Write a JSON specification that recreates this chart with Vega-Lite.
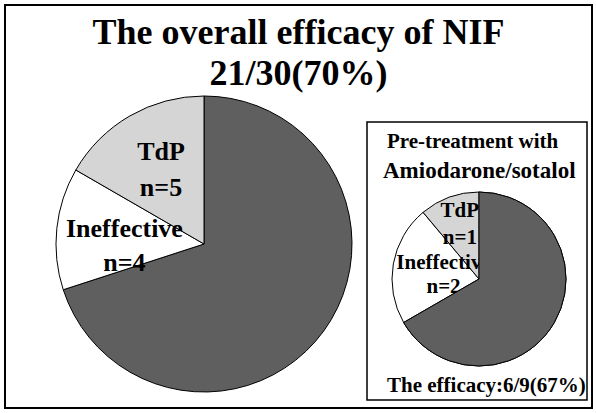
{
  "$schema": "https://vega.github.io/schema/vega-lite/v6.json",
  "width": 596,
  "height": 413,
  "autosize": {"type": "fit", "contains": "padding"},
  "padding": {"left": 5, "top": 5, "right": 4, "bottom": 5},
  "background": "white",
  "title": {
    "text": ["The overall efficacy of NIF", "21/30(70%)"],
    "anchor": "middle",
    "frame": "group",
    "orient": "top",
    "baseline": "alphabetic",
    "offset": -116,
    "lineHeight": 41,
    "font": "Liberation Serif",
    "fontSize": 36,
    "fontWeight": "bold",
    "color": "black"
  },
  "datasets": {
    "slices": [
      {"panel": "Overall", "category": "Effective", "n": 21, "name": "", "count": ""},
      {"panel": "Overall", "category": "Ineffective", "n": 4, "name": "Ineffective", "count": "n=4"},
      {"panel": "Overall", "category": "TdP", "n": 5, "name": "TdP", "count": "n=5"},
      {"panel": "Pre-treatment", "category": "Effective", "n": 6, "name": "", "count": ""},
      {"panel": "Pre-treatment", "category": "Ineffective", "n": 2, "name": "Ineffective", "count": "n=2"},
      {"panel": "Pre-treatment", "category": "TdP", "n": 1, "name": "TdP", "count": "n=1"}
    ],
    "notes": [
      {"panel": "Pre-treatment", "role": "head1", "text": "Pre-treatment with"},
      {"panel": "Pre-treatment", "role": "head2", "text": "Amiodarone/sotalol"},
      {"panel": "Pre-treatment", "role": "foot", "text": "The efficacy:6/9(67%)"}
    ]
  },
  "encoding": {
    "x": {"field": "panel", "type": "nominal", "axis": null,
          "scale": {"type": "point", "domain": ["Overall", "Pre-treatment"], "range": [199, 474], "padding": 0}},
    "y": {"field": "panel", "type": "nominal", "axis": null,
          "scale": {"type": "point", "domain": ["Overall", "Pre-treatment"], "range": [239, 274], "padding": 0}}
  },
  "layer": [
    {
      "data": {"name": "slices"},
      "transform": [{"filter": "datum.panel === 'Overall'"}],
      "mark": {"type": "arc", "outerRadius": 148, "stroke": "black", "strokeWidth": 1},
      "encoding": {
        "theta": {"field": "n", "type": "quantitative", "stack": "normalize"},
        "order": {"field": "category", "sort": "ascending"},
        "color": {"field": "category", "type": "nominal", "legend": null,
                  "scale": {"domain": ["Effective", "Ineffective", "TdP"], "range": ["#5f5f5f", "#ffffff", "#d5d5d5"]}}
      }
    },
    {
      "data": {"name": "slices"},
      "transform": [{"filter": "datum.panel === 'Pre-treatment'"}],
      "mark": {"type": "arc", "outerRadius": 87, "stroke": "black", "strokeWidth": 1},
      "encoding": {
        "theta": {"field": "n", "type": "quantitative", "stack": "normalize"},
        "order": {"field": "category", "sort": "ascending"},
        "color": {"field": "category", "type": "nominal", "legend": null}
      }
    },
    {
      "data": {"name": "slices"},
      "transform": [{"filter": "datum.panel === 'Overall'"}],
      "mark": {"type": "text", "radius": 86, "dy": -18, "font": "Liberation Serif", "fontSize": 26, "fontWeight": "bold", "color": "black", "align": "center", "baseline": "middle"},
      "encoding": {
        "theta": {"field": "n", "type": "quantitative", "stack": "normalize"},
        "order": {"field": "category", "sort": "ascending"},
        "text": {"condition": {"test": "datum.category === 'TdP'", "field": "name"}, "value": ""}
      }
    },
    {
      "data": {"name": "slices"},
      "transform": [{"filter": "datum.panel === 'Overall'"}],
      "mark": {"type": "text", "radius": 86, "dy": 18, "font": "Liberation Serif", "fontSize": 26, "fontWeight": "bold", "color": "black", "align": "center", "baseline": "middle"},
      "encoding": {
        "theta": {"field": "n", "type": "quantitative", "stack": "normalize"},
        "order": {"field": "category", "sort": "ascending"},
        "text": {"condition": {"test": "datum.category === 'TdP'", "field": "count"}, "value": ""}
      }
    },
    {
      "data": {"name": "slices"},
      "transform": [{"filter": "datum.panel === 'Overall'"}],
      "mark": {"type": "text", "radius": 80, "dy": -7, "font": "Liberation Serif", "fontSize": 26, "fontWeight": "bold", "color": "black", "align": "center", "baseline": "middle"},
      "encoding": {
        "theta": {"field": "n", "type": "quantitative", "stack": "normalize"},
        "order": {"field": "category", "sort": "ascending"},
        "text": {"condition": {"test": "datum.category === 'Ineffective'", "field": "name"}, "value": ""}
      }
    },
    {
      "data": {"name": "slices"},
      "transform": [{"filter": "datum.panel === 'Overall'"}],
      "mark": {"type": "text", "radius": 80, "dy": 27, "font": "Liberation Serif", "fontSize": 26, "fontWeight": "bold", "color": "black", "align": "center", "baseline": "middle"},
      "encoding": {
        "theta": {"field": "n", "type": "quantitative", "stack": "normalize"},
        "order": {"field": "category", "sort": "ascending"},
        "text": {"condition": {"test": "datum.category === 'Ineffective'", "field": "count"}, "value": ""}
      }
    },
    {
      "data": {"name": "slices"},
      "transform": [{"filter": "datum.panel === 'Pre-treatment'"}],
      "mark": {"type": "text", "radius": 56, "dy": -15, "font": "Liberation Serif", "fontSize": 21, "fontWeight": "bold", "color": "black", "align": "center", "baseline": "middle"},
      "encoding": {
        "theta": {"field": "n", "type": "quantitative", "stack": "normalize"},
        "order": {"field": "category", "sort": "ascending"},
        "text": {"condition": {"test": "datum.category === 'TdP'", "field": "name"}, "value": ""}
      }
    },
    {
      "data": {"name": "slices"},
      "transform": [{"filter": "datum.panel === 'Pre-treatment'"}],
      "mark": {"type": "text", "radius": 56, "dy": 12, "font": "Liberation Serif", "fontSize": 21, "fontWeight": "bold", "color": "black", "align": "center", "baseline": "middle"},
      "encoding": {
        "theta": {"field": "n", "type": "quantitative", "stack": "normalize"},
        "order": {"field": "category", "sort": "ascending"},
        "text": {"condition": {"test": "datum.category === 'TdP'", "field": "count"}, "value": ""}
      }
    },
    {
      "data": {"name": "slices"},
      "transform": [{"filter": "datum.panel === 'Pre-treatment'"}],
      "mark": {"type": "text", "radius": 36, "dy": -10, "font": "Liberation Serif", "fontSize": 21, "fontWeight": "bold", "color": "black", "align": "center", "baseline": "middle"},
      "encoding": {
        "theta": {"field": "n", "type": "quantitative", "stack": "normalize"},
        "order": {"field": "category", "sort": "ascending"},
        "text": {"condition": {"test": "datum.category === 'Ineffective'", "field": "name"}, "value": ""}
      }
    },
    {
      "data": {"name": "slices"},
      "transform": [{"filter": "datum.panel === 'Pre-treatment'"}],
      "mark": {"type": "text", "radius": 36, "dy": 14, "font": "Liberation Serif", "fontSize": 21, "fontWeight": "bold", "color": "black", "align": "center", "baseline": "middle"},
      "encoding": {
        "theta": {"field": "n", "type": "quantitative", "stack": "normalize"},
        "order": {"field": "category", "sort": "ascending"},
        "text": {"condition": {"test": "datum.category === 'Ineffective'", "field": "count"}, "value": ""}
      }
    },
    {
      "data": {"name": "slices"},
      "transform": [{"filter": "datum.panel === 'Pre-treatment'"}],
      "mark": {"type": "arc", "outerRadius": 87, "stroke": "black", "strokeWidth": 1},
      "encoding": {
        "theta": {"field": "n", "type": "quantitative", "stack": "normalize"},
        "order": {"field": "category", "sort": "ascending"},
        "color": {"field": "category", "type": "nominal", "legend": null},
        "opacity": {"condition": {"test": "datum.category === 'Effective'", "value": 1}, "value": 0}
      }
    },
    {
      "data": {"name": "notes"},
      "transform": [{"filter": "datum.role === 'head1'"}],
      "mark": {"type": "rect", "width": 220, "height": 278, "xOffset": -2, "yOffset": -18, "fill": null, "filled": false, "stroke": "black", "strokeWidth": 1.5}
    },
    {
      "data": {"name": "notes"},
      "transform": [{"filter": "datum.role === 'head1'"}],
      "mark": {"type": "text", "align": "left", "baseline": "alphabetic", "dx": -92, "dy": -131, "font": "Liberation Serif", "fontSize": 21, "fontWeight": "bold", "color": "black"},
      "encoding": {"text": {"field": "text"}}
    },
    {
      "data": {"name": "notes"},
      "transform": [{"filter": "datum.role === 'head2'"}],
      "mark": {"type": "text", "align": "left", "baseline": "alphabetic", "dx": -96, "dy": -101, "font": "Liberation Serif", "fontSize": 23, "fontWeight": "bold", "color": "black"},
      "encoding": {"text": {"field": "text"}}
    },
    {
      "data": {"name": "notes"},
      "transform": [{"filter": "datum.role === 'foot'"}],
      "mark": {"type": "text", "align": "left", "baseline": "alphabetic", "dx": -92, "dy": 113, "font": "Liberation Serif", "fontSize": 21, "fontWeight": "bold", "color": "black"},
      "encoding": {"text": {"field": "text"}}
    }
  ],
  "config": {
    "view": {"stroke": "black", "strokeWidth": 2}
  }
}
